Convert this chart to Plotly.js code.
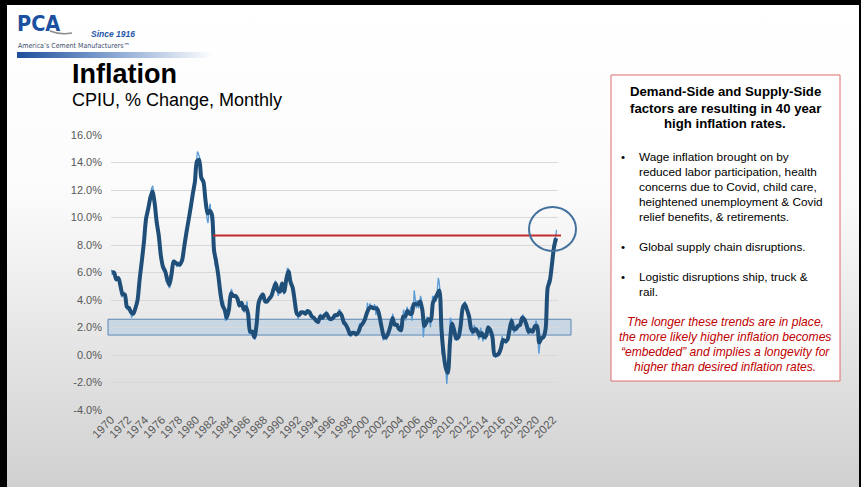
<!DOCTYPE html>
<html><head><meta charset="utf-8">
<script src="https://cdn.plot.ly/plotly-3.0.1.min.js"></script>
<style>
html,body{margin:0;padding:0;}
body{width:861px;height:487px;overflow:hidden;position:relative;background:linear-gradient(to bottom,#ffffff 0%,#fbfbfb 40%,#d0d0d0 100%);}
#chart{position:absolute;left:0;top:0;width:861px;height:487px;}
#bar{position:absolute;left:17px;top:52px;width:195px;height:6px;background:linear-gradient(to right,#1f4e9c 0%,#7f9fcf 45%,rgba(255,255,255,0) 100%);}
#frame{position:absolute;left:0;top:0;width:861px;height:487px;box-sizing:border-box;border-left:7px solid #000;border-top:5px solid #000;border-right:2px solid #000;pointer-events:none;z-index:5;}
</style></head>
<body>
<div id="bar"></div>
<div id="chart"></div>
<div id="frame"></div>
<script>
// ---- DATA ----
const startYear = 1970;
// CPI-U, % change year over year, monthly, Jan 1970 - Jun 2022 (thin line)
const cpiMonthly = [
6.2,6.1,5.8,6.1,6.0,6.0,5.5,5.4,5.6,5.6,5.6,5.6,
5.3,5.0,4.7,4.2,4.4,4.6,4.4,4.6,4.1,3.8,3.3,3.3,
3.3,3.5,3.5,3.5,3.2,2.7,2.9,2.9,3.2,3.4,3.5,3.4,
3.6,3.9,4.6,5.1,5.5,5.9,5.7,7.4,7.4,7.8,8.3,8.7,
9.4,10.0,10.4,10.1,10.7,10.9,11.5,10.9,11.9,12.1,12.2,12.3,
11.8,11.2,10.3,10.2,9.5,9.3,9.7,8.6,7.9,7.4,7.4,6.9,
6.7,6.3,6.1,6.1,6.2,5.9,5.3,5.7,5.5,5.5,4.9,4.9,
5.2,6.0,6.4,6.9,6.7,6.9,6.8,6.6,6.6,6.4,6.7,6.7,
6.8,6.4,6.6,6.5,6.9,7.4,7.7,7.8,8.3,8.9,8.9,9.0,
9.3,9.9,10.1,10.5,10.8,10.9,11.3,11.8,12.2,12.1,12.6,13.3,
13.9,14.2,14.8,14.7,14.4,14.4,13.1,12.9,12.6,12.8,12.6,12.5,
11.8,11.4,10.5,10.0,9.8,9.6,10.8,10.8,11.0,10.1,9.6,8.9,
8.4,7.6,6.8,6.5,6.7,7.1,6.4,5.9,5.0,5.1,4.6,3.8,
3.7,3.5,3.6,3.9,3.5,2.6,2.5,2.6,2.9,2.9,3.3,3.8,
4.2,4.6,4.8,4.6,4.2,4.2,4.2,4.3,4.3,4.3,4.1,3.9,
3.5,3.5,3.7,3.7,3.8,3.8,3.6,3.3,3.1,3.2,3.5,3.8,
3.9,3.1,2.2,1.6,1.5,1.8,1.6,1.6,1.8,1.5,1.3,1.1,
1.5,2.1,3.0,3.8,3.9,3.7,3.9,4.3,4.4,4.5,4.5,4.4,
4.0,3.9,3.9,3.9,3.9,4.0,4.1,4.0,4.2,4.2,4.2,4.4,
4.7,4.8,5.0,5.1,5.4,5.2,5.0,4.7,4.3,4.5,4.7,4.6,
5.2,5.3,5.2,4.7,4.4,4.7,4.8,5.6,6.2,6.3,6.3,6.1,
5.7,5.3,4.9,4.9,5.0,4.7,4.4,3.8,3.4,2.9,3.0,3.1,
2.6,2.8,3.2,3.2,3.0,3.1,3.2,3.1,3.0,3.2,3.0,2.9,
3.3,3.2,3.1,3.2,3.2,3.0,2.8,2.8,2.7,2.8,2.7,2.7,
2.5,2.5,2.5,2.4,2.3,2.5,2.8,2.9,3.0,2.6,2.7,2.7,
2.8,2.9,2.9,3.1,3.2,3.0,2.8,2.6,2.5,2.8,2.6,2.5,
2.7,2.7,2.8,2.9,2.9,2.8,3.0,2.9,3.0,3.0,3.3,3.3,
3.0,3.0,2.8,2.5,2.2,2.3,2.2,2.2,2.2,2.1,1.8,1.7,
1.6,1.4,1.4,1.4,1.7,1.7,1.7,1.6,1.5,1.5,1.5,1.6,
1.7,1.6,1.7,2.3,2.1,2.0,2.1,2.3,2.6,2.6,2.6,2.7,
2.7,3.2,3.8,3.1,3.2,3.7,3.7,3.4,3.5,3.4,3.4,3.4,
3.7,3.5,2.9,3.3,3.6,3.2,2.7,2.7,2.6,2.1,1.9,1.6,
1.1,1.1,1.5,1.6,1.2,1.1,1.5,1.8,1.5,2.0,2.2,2.4,
2.6,3.0,3.0,2.2,2.1,2.1,2.1,2.2,2.3,2.0,1.8,1.9,
1.9,1.7,1.7,2.3,3.1,3.3,3.0,2.7,2.5,3.2,3.5,3.3,
3.0,3.0,3.1,3.5,2.8,2.5,3.2,3.6,4.7,4.3,3.5,3.4,
4.0,3.6,3.4,3.5,4.2,4.3,4.1,3.8,2.1,1.3,2.0,2.5,
2.1,2.4,2.8,2.6,2.7,2.7,2.4,2.0,2.8,3.5,4.3,4.1,
4.3,4.0,4.0,3.9,4.2,5.0,5.6,5.4,4.9,3.7,1.1,0.1,
0.0,0.2,-0.4,-0.7,-1.3,-1.4,-2.1,-1.5,-1.3,-0.2,1.8,2.7,
2.6,2.1,2.3,2.2,2.0,1.1,1.2,1.1,1.1,1.2,1.1,1.5,
1.6,2.1,2.7,3.2,3.6,3.6,3.6,3.8,3.9,3.5,3.4,3.0,
2.9,2.9,2.7,2.3,1.7,1.7,1.4,1.7,2.0,2.2,1.8,1.7,
1.6,2.0,1.5,1.1,1.4,1.8,2.0,1.5,1.2,1.0,1.2,1.5,
1.6,1.1,1.5,2.0,2.1,2.1,2.0,1.7,1.7,1.7,1.3,0.8,
-0.1,0.0,-0.1,-0.2,0.0,0.1,0.2,0.2,0.0,0.2,0.5,0.7,
1.4,1.0,0.9,1.1,1.0,1.0,0.8,1.1,1.5,1.6,1.7,2.1,
2.5,2.7,2.4,2.2,1.9,1.6,1.7,1.9,2.2,2.0,2.2,2.1,
2.1,2.2,2.4,2.5,2.8,2.9,2.9,2.7,2.3,2.5,2.2,1.9,
1.6,1.5,1.9,2.0,1.8,1.6,1.8,1.7,1.7,1.8,2.1,2.3,
2.5,2.3,1.5,0.3,0.1,0.6,1.0,1.3,1.4,1.2,1.2,1.4,
1.4,1.7,2.6,4.2,5.0,5.4,5.4,5.3,5.4,6.2,6.8,7.0,
7.5,7.9,8.5,8.3,8.6,9.1
];
// Smoothed trend (thick line), quarterly, Q1 1970 - Q2 2022
const cpiTrendQuarterly = [
6.0,6.0,5.5,5.6, 5.0,4.4,4.4,3.5, 3.4,3.1,3.0,3.4, 4.0,5.5,6.8,8.2,
9.9,10.6,11.4,11.9, 11.1,9.7,8.7,7.2, 6.4,6.1,5.5,5.1, 5.9,6.8,6.7,6.6,
6.6,6.9,7.9,8.9, 9.8,10.7,11.7,12.6, 14.1,14.2,12.9,12.6, 11.2,10.3,10.5,10.2,
7.6,6.8,5.8,4.5, 3.6,3.3,2.7,3.3, 4.5,4.3,4.3,4.1, 3.6,3.8,3.3,3.5,
3.0,1.7,1.7,1.3, 2.2,3.8,4.2,4.4, 3.9,3.9,4.1,4.3, 4.8,5.2,4.7,4.6,
5.2,4.6,5.5,6.1, 5.3,4.9,3.9,3.0, 2.9,3.1,3.1,3.0, 3.2,3.1,2.8,2.7,
2.5,2.4,2.8,2.7, 2.9,3.0,2.7,2.6, 2.7,2.9,2.9,3.1, 2.9,2.4,2.2,1.9,
1.5,1.6,1.6,1.5, 1.7,2.1,2.3,2.6, 3.1,3.4,3.5,3.4, 3.4,3.3,2.7,1.9,
1.3,1.3,1.6,2.1, 2.7,2.2,2.2,1.9, 1.8,2.8,2.8,3.2, 3.0,3.0,3.7,3.7,
3.7,3.9,3.3,2.1, 2.4,2.6,2.5,3.8, 4.1,4.4,4.7,1.9, 0.1,-0.9,-1.3,0.9,
2.3,1.8,1.2,1.3, 2.1,3.4,3.7,3.3, 2.8,1.9,1.7,1.9, 1.7,1.4,1.6,1.3,
1.4,2.0,1.8,1.3, 0.0,0.0,0.1,0.5, 1.1,1.0,1.1,1.8, 2.5,1.9,1.9,2.1,
2.2,2.7,2.6,2.2, 1.7,1.8,1.7,2.1, 2.1,0.9,1.2,1.3, 1.9,4.9,5.4,6.6,
7.9,8.5
];
const referenceLevel = 8.7;      // 40-year high marker (red line)
const targetBand = [1.45, 2.6];  // shaded band
const yTicks = [-4,-2,0,2,4,6,8,10,12,14,16];
const yTickText = yTicks.map(v => v.toFixed(1) + '%');

// ---- build dates ----
function pad(n){return (n<10?'0':'')+n;}
const monthDates = cpiMonthly.map((v,i)=> (startYear+Math.floor(i/12))+'-'+pad(i%12+1)+'-01');
const quarterDates = cpiTrendQuarterly.map((v,i)=> (startYear+Math.floor(i/4))+'-'+pad((i%4)*3+2)+'-15');

// ---- layout geometry (pixels) ----
const W=861,H=487,ML=111,MR=303,MT=135,MB=77;
const PW=W-ML-MR, PH=H-MT-MB;
const px = x => (x-ML)/PW;
const py = y => (H-MB-y)/PH;
const FONT = 'Liberation Sans, Arial, sans-serif';

function ann(text, x, y, size, opts){
  opts = opts||{};
  return {text:text, xref:'paper', yref:'paper', x:px(x), y:py(y),
    xanchor:opts.xa||'left', yanchor:'middle', showarrow:false,
    font:{family:opts.family||FONT, size:size, color:opts.color||'#000'}};
}

const BOXC = 725;
const annotations = [
  ann('<b>PCA</b>', 15, 23, 21.5, {color:'#1b4f9f', family:'Liberation Sans Narrow, DejaVu Sans Condensed, Arial Narrow, sans-serif'}),
  ann('<b><i>Since 1916</i></b>', 89, 34, 8.5, {color:'#1f56a8'}),
  ann('America\u2019s Cement Manufacturers\u2122', 16, 46, 7, {color:'#3d4d6e', family:'Liberation Sans Narrow, DejaVu Sans Condensed, sans-serif'}),
  ann('<b>Inflation</b>', 70, 74, 27),
  ann('CPIU, % Change, Monthly', 70, 100, 18),
  ann('<b>Demand-Side and Supply-Side</b>', BOXC, 91, 13.2, {xa:'center'}),
  ann('<b>factors are resulting in 40 year</b>', BOXC, 108, 13.2, {xa:'center'}),
  ann('<b>high inflation rates.</b>', BOXC, 124, 13.2, {xa:'center'}),
  ann('\u2022', 619, 157, 11.5),
  ann('Wage inflation brought on by', 637, 157, 11.8),
  ann('reduced labor participation, health', 637, 172, 11.8),
  ann('concerns due to Covid, child care,', 637, 187, 11.8),
  ann('heightened unemployment & Covid', 637, 202, 11.8),
  ann('relief benefits, & retirements.', 637, 217, 11.8),
  ann('\u2022', 619, 247, 11.5),
  ann('Global supply chain disruptions.', 637, 247, 11.8),
  ann('\u2022', 619, 277, 11.5),
  ann('Logistic disruptions ship, truck &', 637, 277, 11.8),
  ann('rail.', 637, 292, 11.8),
  ann('<i>The longer these trends are in place,</i>', BOXC, 322, 12.1, {xa:'center', color:'#c00000'}),
  ann('<i>the more likely higher inflation becomes</i>', BOXC, 337, 12.1, {xa:'center', color:'#c00000'}),
  ann('<i>\u201Cembedded\u201D and implies a longevity for</i>', BOXC, 352, 12.1, {xa:'center', color:'#c00000'}),
  ann('<i>higher than desired inflation rates.</i>', BOXC, 367, 12.1, {xa:'center', color:'#c00000'})
];

const shapes = [
  // text box
  {type:'rect', xref:'paper', yref:'paper', x0:px(611), x1:px(840), y0:py(381), y1:py(75),
   line:{color:'#e06b6b', width:1}, fillcolor:'#ffffff', layer:'below'},
  // shaded band
  {type:'rect', xref:'paper', yref:'y', x0:px(108), x1:px(571), y0:targetBand[0], y1:targetBand[1],
   line:{color:'#5b87b4', width:1}, fillcolor:'rgba(165,196,224,0.45)', layer:'below'},
  // red 40-year-high line
  {type:'line', xref:'paper', yref:'y', x0:px(213), x1:px(561), y0:referenceLevel, y1:referenceLevel,
   line:{color:'#c42b2b', width:2}},
  // highlight circle
  {type:'circle', xref:'paper', yref:'paper', x0:px(529), x1:px(576), y0:py(251), y1:py(207),
   line:{color:'#41719c', width:2}},
  // logo swoosh
  {type:'path', xref:'paper', yref:'paper',
   path:'M '+px(50)+' '+py(31)+' Q '+px(60)+' '+py(35)+' '+px(72)+' '+py(33),
   line:{color:'#8a8a8a', width:1.5}}
];

const traces = [
  {type:'scatter', mode:'lines', x:monthDates, y:cpiMonthly,
   line:{color:'#5b9bd5', width:1.3}, hoverinfo:'skip'},
  {type:'scatter', mode:'lines', x:quarterDates, y:cpiTrendQuarterly,
   line:{color:'#1f4e79', width:4, shape:'spline', smoothing:0.8}, hoverinfo:'skip'}
];

const layout = {
  width:W, height:H, margin:{l:ML, r:MR, t:MT, b:MB, pad:0},
  paper_bgcolor:'rgba(0,0,0,0)', plot_bgcolor:'rgba(0,0,0,0)',
  showlegend:false,
  font:{family:FONT, color:'#595959'},
  xaxis:{type:'date', range:['1970-01-01','2022-08-01'], tick0:'1970-01-01', dtick:'M24',
    tickformat:'%Y', tickangle:-45, showgrid:false, zeroline:false, showline:false,
    ticks:'', tickfont:{family:FONT, size:11.5, color:'#595959'}, fixedrange:true},
  yaxis:{range:[-4,16], tickmode:'array', tickvals:yTicks, ticktext:yTickText,
    showgrid:true, gridcolor:'#d9d9d9', gridwidth:1, zeroline:false, showline:false,
    ticks:'', ticklabelstandoff:8, tickfont:{family:FONT, size:11, color:'#595959'}, fixedrange:true},
  annotations:annotations, shapes:shapes
};

Plotly.newPlot('chart', traces, layout, {staticPlot:true, displayModeBar:false});
</script>
</body></html>
